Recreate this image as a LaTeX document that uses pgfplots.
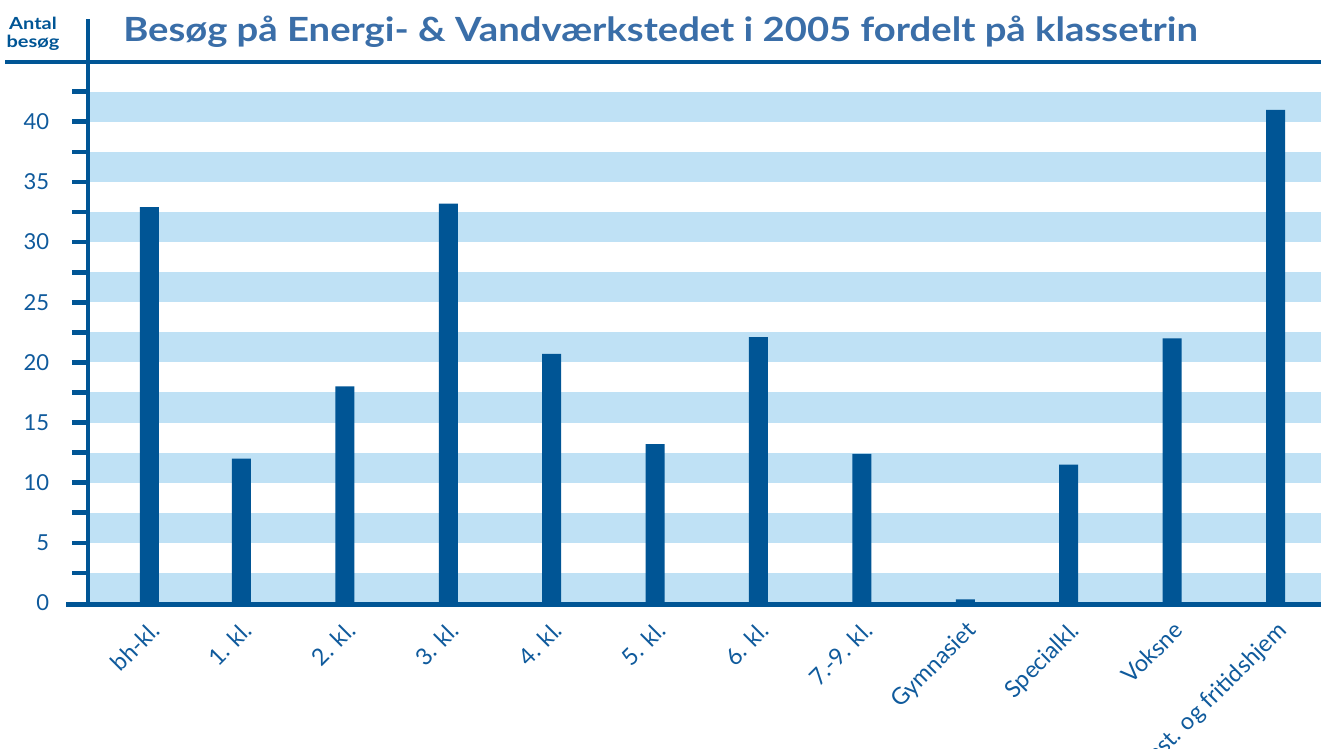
\documentclass[border=0pt]{standalone}
\usepackage{pgfplots}
\pgfplotsset{compat=1.18}
\usepackage{fontspec}
\setmainfont{Lato}
\definecolor{dblue}{HTML}{005595}
\definecolor{tblue}{HTML}{3A6EA8}
\definecolor{lblue}{HTML}{0F5A9C}
\definecolor{stripe}{HTML}{BFE1F5}
\begin{document}
\begin{tikzpicture}[x=0.75pt,y=0.75pt]
\useasboundingbox (0,0) rectangle (1321,749);
\begin{axis}[
  at={(66pt,109.5pt)}, anchor=south west,
  scale only axis, width=924.75pt, height=406pt,
  xmin=-0.484, xmax=11.44, ymin=0, ymax=45,
  clip=false,
  axis line style={draw=none},
  major tick length=0pt,
  ytick={0,5,...,40},
  xtick={0.11,1,2,3,4,5,6,7,8,9,10,11},
  xticklabels={bh-kl.,1. kl.,2. kl.,3. kl.,4. kl.,5. kl.,6. kl.,7.-9. kl.,Gymnasiet,Specialkl.,Voksne,Inst. og fritidshjem},
  /pgf/number format/assume math mode=true,
  yticklabel style={anchor=east, inner sep=0pt, xshift=-29pt, font=\fontsize{16.5}{18}\selectfont, text=lblue},
  xticklabel style={xshift=0pt, yshift=-12.5pt, rotate=45, anchor=north east, inner sep=0pt, font=\fontsize{17.5}{19}\selectfont, text=lblue},
  ybar, bar width=14.25pt,
]
\pgfplotsinvokeforeach{0,5,10,15,20,25,30,35,40}{
  \fill[stripe] (axis cs:-0.484,#1) rectangle (axis cs:11.44,#1+2.5);
}
\addplot[fill=dblue, draw=none] coordinates {
  (0.11,32.9) (1,12.0) (2,18.0) (3,33.2) (4,20.7) (5,13.2)
  (6,22.1) (7,12.4) (8,0.3) (9,11.5) (10,22.0) (11,41.0)
};
\pgfplotsinvokeforeach{2.5,5,7.5,10,12.5,15,17.5,20,22.5,25,27.5,30,32.5,35,37.5,40,42.5}{
  \draw[dblue, line width=3.5pt] ([xshift=-12pt]axis cs:-0.484,#1) -- (axis cs:-0.484,#1);
}
\draw[dblue, line width=3.5pt] ([yshift=-3pt]rel axis cs:0,0) -- ([yshift=32pt]rel axis cs:0,1);
\draw[dblue, line width=3pt] ([xshift=-62pt]rel axis cs:0,1) -- (rel axis cs:1,1);
\draw[dblue, line width=3.5pt] ([xshift=-16.5pt,yshift=-1.3pt]rel axis cs:0,0) -- ([yshift=-1.3pt]rel axis cs:1,0);
\end{axis}
\node[anchor=base west, inner sep=0pt, text=tblue, font=\fontsize{25}{28}\selectfont\bfseries] at (123,707) {\scalebox{1.147}[1]{Besøg på Energi- \& Vandværkstedet i 2005 fordelt på klassetrin}};
\node[anchor=north, inner sep=0pt, text=dblue, font=\fontsize{12.5}{15}\selectfont\bfseries] at (33,734) {\scalebox{1.2}[1]{\begin{tabular}{@{}c@{}}Antal\\[-1pt]besøg\end{tabular}}};
\end{tikzpicture}
\end{document}
